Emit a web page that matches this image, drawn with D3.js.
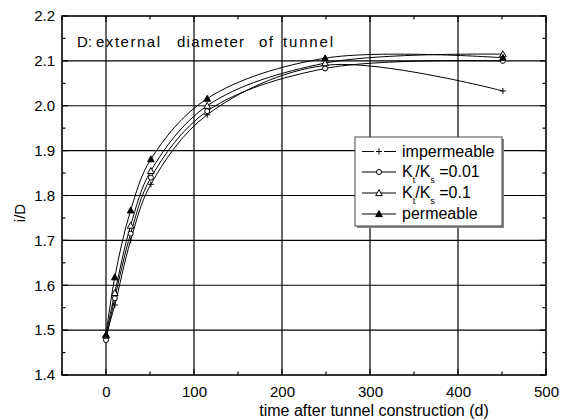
<!DOCTYPE html>
<html><head><meta charset="utf-8">
<script src="https://cdn.jsdelivr.net/npm/d3@7"></script>
<style>body{margin:0;background:#fff}svg{display:block}text{font-family:"Liberation Sans",Arial,sans-serif;fill:#000}</style>
</head><body>
<svg id="c" width="562" height="420"></svg>
<script>
const times = [0, 10, 28, 51, 115, 249, 451];
const impermeable = [1.488, 1.556, 1.700, 1.825, 1.980, 2.090, 2.033];
const k001 = [1.478, 1.571, 1.715, 1.840, 1.988, 2.083, 2.100];
const k01 = [1.488, 1.583, 1.733, 1.855, 2.000, 2.095, 2.115];
const permeable = [1.490, 1.618, 1.767, 1.881, 2.016, 2.106, 2.107];
const xTicks = [0, 100, 200, 300, 400, 500];
const yTicks = [1.4, 1.5, 1.6, 1.7, 1.8, 1.9, 2.0, 2.1, 2.2];

const svg = d3.select("#c");
const L = 62, R = 546, T = 16, B = 375;
const x = d3.scaleLinear().domain([-50, 500]).range([L, R]);
const y = d3.scaleLinear().domain([1.4, 2.2]).range([B, T]);

// grid
const g = svg.append("g");
g.selectAll(".vg").data(xTicks.filter(d => d < 500)).enter().append("line")
  .attr("x1", d => x(d)).attr("x2", d => x(d)).attr("y1", T).attr("y2", B)
  .attr("stroke", "#000").attr("stroke-width", 1.2);
g.selectAll(".hg").data(yTicks.filter(d => d > 1.4 && d < 2.2)).enter().append("line")
  .attr("x1", L).attr("x2", R).attr("y1", d => y(d)).attr("y2", d => y(d))
  .attr("stroke", "#000").attr("stroke-width", 1.2);

// axes with inward ticks
const minorX = d3.range(-50, 501, 50);
const axB = d3.axisBottom(x).tickValues(xTicks).tickSize(0).tickPadding(11);
const ax = svg.append("g").attr("transform", `translate(0,${B})`).call(axB);
ax.select(".domain").remove();
ax.selectAll("text").style("font-size", "15px").attr("font-family", "Liberation Sans, Arial");
const axL = d3.axisLeft(y).tickValues(yTicks).tickFormat(d3.format(".1f")).tickSize(0).tickPadding(7);
const ay = svg.append("g").attr("transform", `translate(${L},0)`).call(axL);
ay.select(".domain").remove();
ay.selectAll("text").style("font-size", "15px").attr("font-family", "Liberation Sans, Arial");

const tk = svg.append("g").attr("stroke", "#000").attr("stroke-width", 1.2);
minorX.forEach(v => {
  const len = (v % 100 === 0) ? 6 : 3.5;
  tk.append("line").attr("x1", x(v)).attr("x2", x(v)).attr("y1", B).attr("y2", B - len);
  tk.append("line").attr("x1", x(v)).attr("x2", x(v)).attr("y1", T).attr("y2", T + len);
});
d3.range(1.4, 2.21, 0.05).forEach(v => {
  const major = Math.abs(Math.round(v * 10) - v * 10) < 1e-6;
  const len = major ? 6 : 3.5;
  tk.append("line").attr("x1", L).attr("x2", L + len).attr("y1", y(v)).attr("y2", y(v));
  tk.append("line").attr("x1", R).attr("x2", R - len).attr("y1", y(v)).attr("y2", y(v));
});
svg.append("rect").attr("x", L).attr("y", T).attr("width", R - L).attr("height", B - T)
  .attr("fill", "none").attr("stroke", "#000").attr("stroke-width", 1.6);

// axis titles
svg.append("text").attr("x", 374).attr("y", 415.5).attr("text-anchor", "middle")
  .style("font-size", "16px").text("time after tunnel construction (d)");
svg.append("text").attr("transform", "translate(25,213) rotate(-90)").attr("text-anchor", "middle")
  .style("font-size", "15px").text("i/D");

// annotation
const ann = svg.append("text").attr("y", 47).style("font-size", "15px");
[["D:", 77, 15], ["external", 96, 64], ["diameter", 177, 67], ["of", 259, 14], ["tunnel", 283, 50]]
  .forEach(([w, px, len]) => ann.append("tspan").attr("x", px).attr("textLength", len)
    .attr("lengthAdjust", "spacing").text(w));

// series
const series = [
  {name: "impermeable", vals: impermeable, mk: "plus"},
  {name: "k001", vals: k001, mk: "circle"},
  {name: "k01", vals: k01, mk: "tri"},
  {name: "permeable", vals: permeable, mk: "ftri"}
];
const line = d3.line().x(d => x(d[0])).y(d => y(d[1])).curve(d3.curveCatmullRom.alpha(0.5));
function marker(sel, type, cx, cy) {
  if (type === "plus") {
    sel.append("path").attr("d", `M${cx-3},${cy}H${cx+3}M${cx},${cy-3}V${cy+3}`)
      .attr("stroke", "#000").attr("stroke-width", 1).attr("fill", "none");
  } else if (type === "circle") {
    sel.append("circle").attr("cx", cx).attr("cy", cy).attr("r", 2.5)
      .attr("fill", "#fff").attr("stroke", "#000").attr("stroke-width", 1);
  } else {
    const s = 3.3;
    sel.append("path").attr("d", `M${cx},${cy-s}L${cx+s},${cy+s*0.8}L${cx-s},${cy+s*0.8}Z`)
      .attr("fill", type === "ftri" ? "#000" : "#fff").attr("stroke", "#000").attr("stroke-width", 1);
  }
}
const lg = svg.append("g");
series.forEach(s => {
  const pts = times.map((t, i) => [t, s.vals[i]]);
  lg.append("path").attr("d", line(pts)).attr("fill", "none").attr("stroke", "#000").attr("stroke-width", 1);
});
series.forEach(s => {
  times.forEach((t, i) => marker(lg, s.mk, x(t), y(s.vals[i])));
});

// legend
const lx = 355, ly = 137, lw = 147, lh = 89;
svg.append("rect").attr("x", lx + 2).attr("y", ly + 2).attr("width", lw).attr("height", lh).attr("fill", "#888");
svg.append("rect").attr("x", lx).attr("y", ly).attr("width", lw).attr("height", lh)
  .attr("fill", "#fff").attr("stroke", "#444").attr("stroke-width", 1);
const rows = [151.5, 172, 193, 214];
series.forEach((s, i) => {
  const cy = rows[i], cx = 379;
  if (s.mk === "plus") {
    svg.append("line").attr("x1", 362).attr("x2", 374).attr("y1", cy).attr("y2", cy).attr("stroke", "#000");
    svg.append("line").attr("x1", 384).attr("x2", 396).attr("y1", cy).attr("y2", cy).attr("stroke", "#000");
  } else {
    svg.append("line").attr("x1", 362).attr("x2", 396).attr("y1", cy).attr("y2", cy).attr("stroke", "#000");
  }
  marker(svg, s.mk, cx, cy);
});
function legText(yb, parts) {
  const t = svg.append("text").attr("x", 402).attr("y", yb).style("font-size", "16px");
  parts.forEach(p => {
    const ts = t.append("tspan").text(p[0]);
    if (p[1] === "sub") ts.style("font-size", "9px").attr("dy", 6);
    if (p[1] === "up") ts.attr("dy", -6);
  });
}
legText(156.5, [["impermeable"]]);
legText(177, [["K"], ["t", "sub"], ["/K", "up"], ["s", "sub"], [" =0.01", "up"]]);
legText(198, [["K"], ["t", "sub"], ["/K", "up"], ["s", "sub"], [" =0.1", "up"]]);
legText(219, [["permeable"]]);
</script>
</body></html>
